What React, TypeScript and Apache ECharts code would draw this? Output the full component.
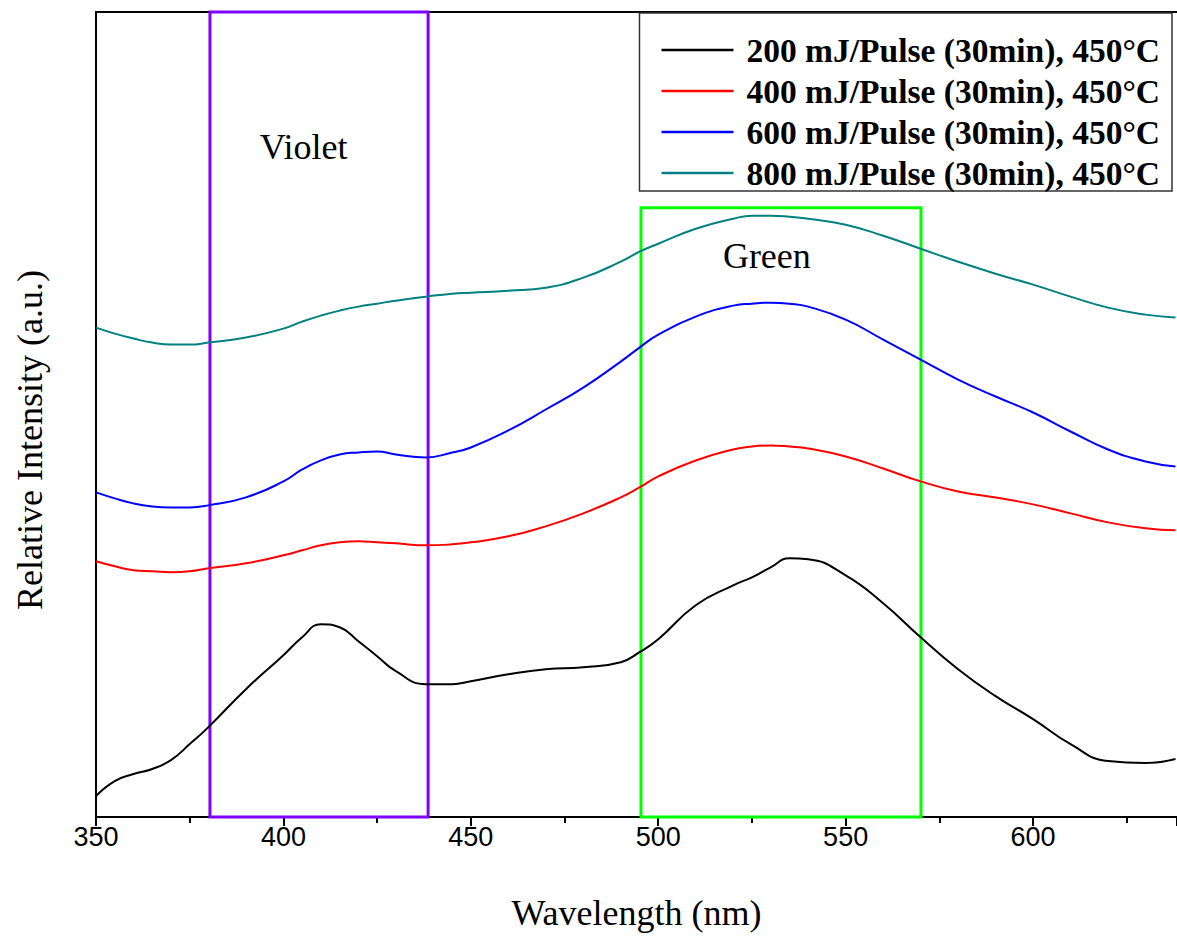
import React, { useEffect, useRef } from "react";
import * as echarts from "echarts";

const wavelengths = [350, 355, 360, 365, 370, 375, 380, 390, 400, 405, 410, 415, 420, 425, 430, 438, 445, 450, 460, 470, 480, 490, 495, 500, 510, 520, 525, 530, 535, 540, 550, 560, 570, 580, 590, 600, 610, 620, 630, 638];

const s200 = [21, 36, 43, 48, 57, 73, 90, 128, 162, 180, 193, 190, 176, 161, 146, 133, 133, 136, 143, 148, 150, 155, 165, 178, 212, 232, 240, 250, 259, 258, 242, 214, 180, 148, 121, 98, 73, 56, 54, 58];
const s400 = [256, 251, 247, 246, 245, 246, 249, 254, 262, 267, 272, 275, 276, 275, 274, 272, 273, 275, 281, 291, 304, 320, 330, 341, 357, 368, 371, 372, 371, 369, 361, 349, 336, 326, 320, 313, 304, 295, 289, 287];
const s600 = [325, 319, 314, 311, 310, 310, 312, 320, 336, 348, 357, 363, 365, 366, 363, 360, 365, 370, 387, 408, 430, 456, 470, 483, 501, 512, 514, 515, 514, 511, 498, 478, 458, 438, 421, 405, 386, 368, 356, 351];
const s800 = [490, 484, 479, 475, 473, 473, 475, 480, 489, 496, 502, 507, 511, 514, 517, 521, 524, 525, 527, 530, 540, 556, 566, 574, 589, 599, 602, 602, 601, 599, 593, 582, 569, 556, 544, 533, 521, 510, 503, 500];

const seriesNames = [
  "200 mJ/Pulse (30min), 450°C",
  "400 mJ/Pulse (30min), 450°C",
  "600 mJ/Pulse (30min), 450°C",
  "800 mJ/Pulse (30min), 450°C",
];
const seriesColors = ["#000000", "#ff0000", "#0000ff", "#008080"];
const seriesValues = [s200, s400, s600, s800];

const violetBand = [380.4, 438.6];
const greenBand = [495.4, 570.1];
const greenBandTop = 610;
const yMax = 806;

export default function App() {
  const ref = useRef<HTMLDivElement>(null);
  useEffect(() => {
    if (!ref.current) return;
    const chart = echarts.init(ref.current, undefined, { renderer: "svg" });
    const serif = "'Liberation Serif', 'Times New Roman', serif";
    const series: any[] = seriesValues.map((vals, i) => ({
      name: seriesNames[i],
      type: "line",
      data: wavelengths.map((w, j) => [w, vals[j]]),
      smooth: 0.5,
      symbol: "none",
      lineStyle: { color: seriesColors[i], width: 2 },
      itemStyle: { color: seriesColors[i] },
      z: 3,
    }));
    series[0].markArea = {
      silent: true,
      z: 1,
      data: [
        [
          {
            xAxis: violetBand[0],
            yAxis: 0,
            itemStyle: { color: "rgba(0,0,0,0)", borderColor: "#7f00ff", borderWidth: 3 },
            label: {
              show: true,
              formatter: "Violet",
              position: ["43%", 136],
              align: "center",
              verticalAlign: "middle",
              fontFamily: serif,
              fontSize: 36,
              color: "#000",
            },
          },
          { xAxis: violetBand[1], yAxis: yMax },
        ],
        [
          {
            xAxis: greenBand[0],
            yAxis: 0,
            itemStyle: { color: "rgba(0,0,0,0)", borderColor: "#00ff00", borderWidth: 3 },
            label: {
              show: true,
              formatter: "Green",
              position: ["45%", 50],
              align: "center",
              verticalAlign: "middle",
              fontFamily: serif,
              fontSize: 36,
              color: "#000",
            },
          },
          { xAxis: greenBand[1], yAxis: greenBandTop },
        ],
      ],
    };
    chart.setOption({
      animation: false,
      backgroundColor: "#ffffff",
      grid: { left: 96, top: 12, right: 0, bottom: 118, containLabel: false },
      legend: {
        orient: "vertical",
        right: 5,
        top: 13,
        data: seriesNames,
        icon: "rect",
        itemWidth: 72,
        itemHeight: 2.5,
        itemGap: 7,
        borderColor: "#333",
        borderWidth: 1.5,
        padding: [20, 12, 1, 22],
        backgroundColor: "#fff",
        textStyle: {
          fontFamily: serif,
          fontWeight: "bold",
          fontSize: 33.5,
          lineHeight: 34,
          color: "#000",
          padding: [0, 0, 0, 8],
        },
      },
      xAxis: [
        {
          type: "value",
          min: 350,
          max: 638.4,
          interval: 50,
          name: "Wavelength (nm)",
          nameLocation: "middle",
          nameGap: 78,
          nameTextStyle: { fontFamily: serif, fontSize: 36, color: "#000" },
          axisLine: { show: true, onZero: false, lineStyle: { color: "#000", width: 2 } },
          axisTick: { show: true, inside: false, length: 9, lineStyle: { color: "#000", width: 2 } },
          minorTick: { show: true, splitNumber: 2, length: 6, lineStyle: { color: "#000", width: 2 } },
          axisLabel: { fontFamily: "'Liberation Sans', Arial, sans-serif", fontSize: 27, color: "#000", margin: 6, showMaxLabel: false },
          splitLine: { show: false },
        },
        {
          type: "value",
          position: "top",
          min: 350,
          max: 638.4,
          axisLine: { show: true, onZero: false, lineStyle: { color: "#000", width: 2 } },
          axisTick: { show: false },
          axisLabel: { show: false },
          splitLine: { show: false },
        },
      ],
      yAxis: {
        type: "value",
        min: 0,
        max: yMax,
        axisLine: { show: true, onZero: false, lineStyle: { color: "#000", width: 2 } },
        axisTick: { show: false },
        axisLabel: { show: false },
        splitLine: { show: false },
      },
      graphic: [
        {
          type: "text",
          x: 30,
          y: 440,
          rotation: Math.PI / 2,
          style: {
            text: "Relative Intensity (a.u.)",
            fontFamily: serif,
            fontSize: 36,
            fill: "#000",
            textAlign: "center",
            textVerticalAlign: "middle",
          },
        },
      ],
      series,
    });
    return () => chart.dispose();
  }, []);
  return (
    <div
      ref={ref}
      style={{ position: "fixed", left: 0, top: 0, width: 1177, height: 936, background: "#fff" }}
    />
  );
}
